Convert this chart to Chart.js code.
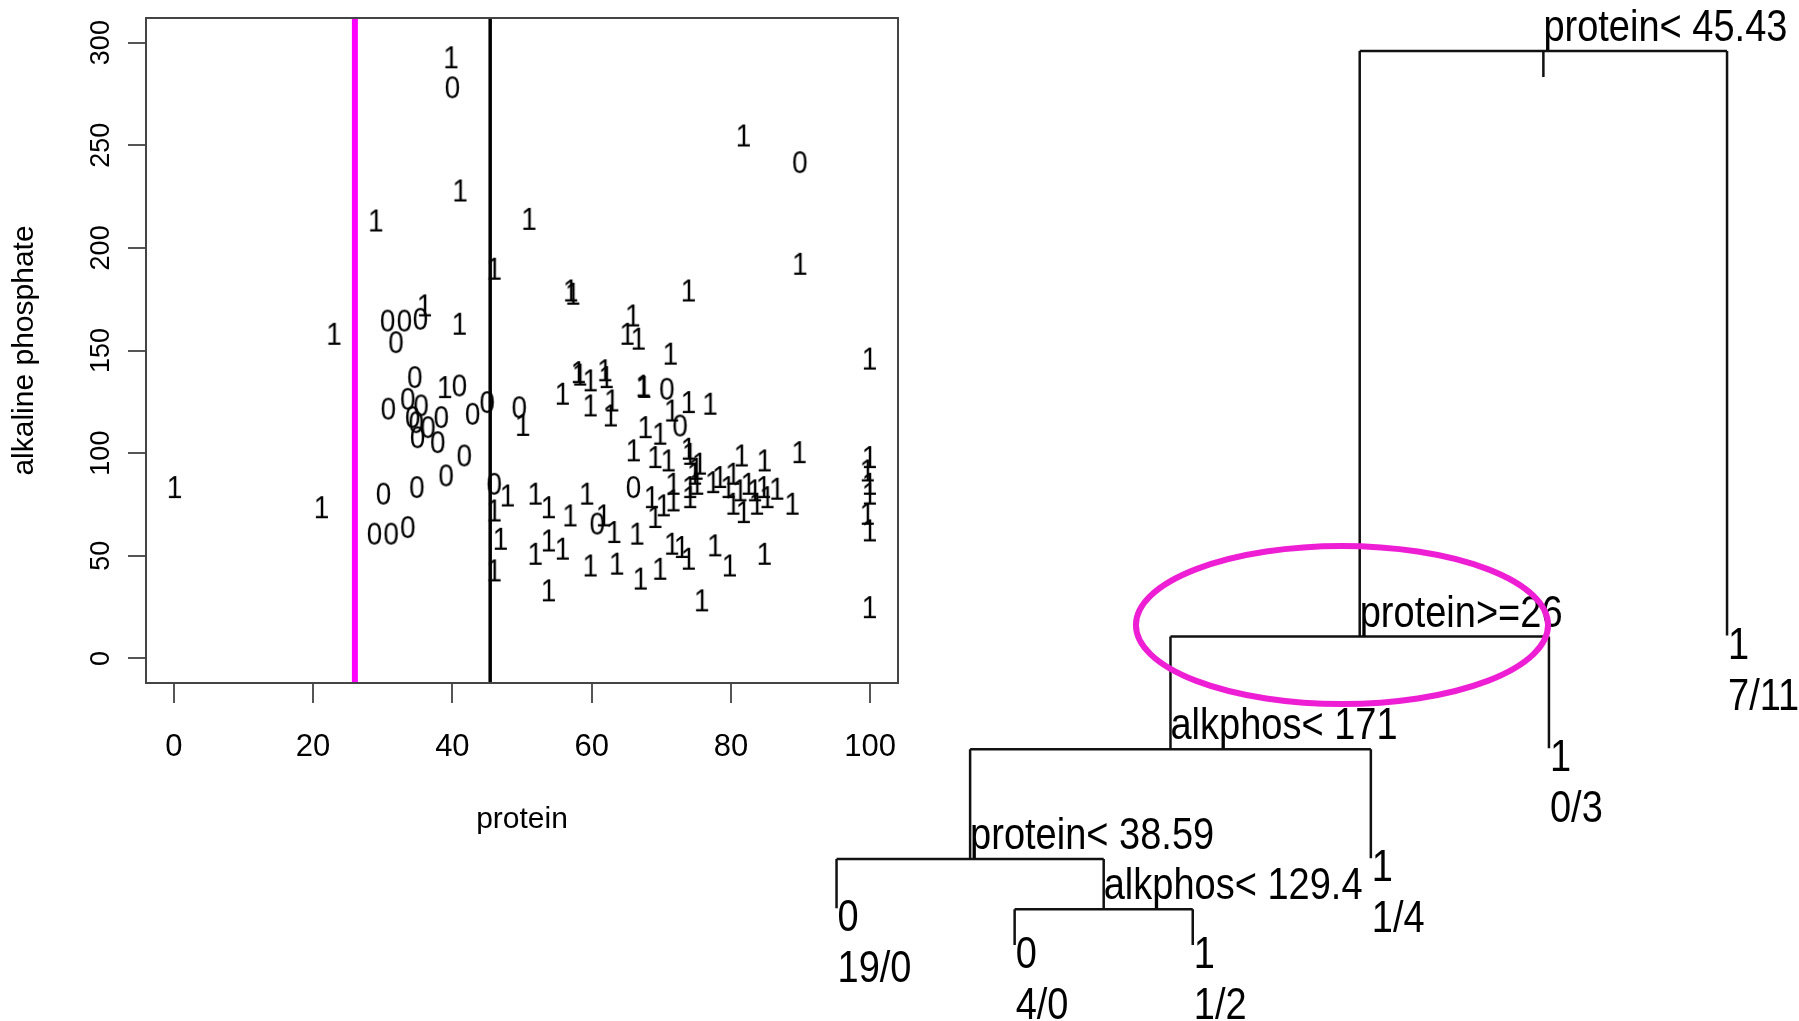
<!DOCTYPE html>
<html><head><meta charset="utf-8">
<script src="https://cdn.jsdelivr.net/npm/chart.js@4/dist/chart.umd.min.js"></script>
<style>
html,body{margin:0;padding:0;background:#fff;}
#wrap{position:relative;width:1799px;height:1021px;overflow:hidden;}
#wrap canvas{position:absolute;left:0;top:0;}
</style></head><body>
<div id="wrap"><canvas id="scatter" width="1799" height="1021"></canvas><canvas id="tree" width="1799" height="1021"></canvas></div>
<script>
const FONT = '"Liberation Sans", Arial, Helvetica, sans-serif';

// ---------- scatter data (protein vs alkaline phosphate), class labels 0 / 1 ----------
const class0Protein = [40.0, 89.9, 30.7, 33.1, 35.4, 31.9, 34.6, 41.0, 30.8, 33.6, 35.5, 34.3, 34.8, 36.5, 38.4, 35.0, 37.9, 42.9, 45.0, 49.6, 41.7, 39.1, 34.9, 30.1, 28.8, 31.2, 33.6, 46.0, 70.8, 72.7, 66.0, 60.8];
const class0Alk     = [278.5, 242.0, 164.8, 164.8, 165.7, 154.3, 137.3, 133.2, 121.9, 126.7, 123.5, 117.8, 115.3, 112.9, 117.8, 108.0, 105.6, 119.4, 125.1, 122.6, 99.1, 89.4, 83.7, 80.5, 61.0, 61.0, 64.2, 85.3, 131.6, 113.7, 83.7, 65.9];

const class1Protein = [0.1, 21.2, 23.0, 29.0, 39.8, 41.1, 41.0, 36.0, 38.9,
  46.0, 51.0, 81.8, 89.9, 57.0, 57.3, 73.9,
  65.9, 65.1, 66.7, 71.3, 99.9,
  58.1, 58.3, 59.8, 61.9, 62.1, 55.8, 59.8, 62.9, 62.7,
  67.4, 67.5, 73.9, 77.0, 71.5, 67.7, 69.8, 66.0, 69.1, 71.0, 73.9, 74.1, 75.5, 75.0,
  81.5, 84.8, 89.8,
  99.9, 99.6, 99.9, 99.9, 99.6, 99.9, 99.9,
  50.1,
  47.9, 46.0, 46.9, 46.0,
  51.9, 53.8, 56.9, 59.3,
  61.7, 63.2,
  68.6, 70.3, 71.7, 71.7, 74.1, 74.1, 74.8, 75.1,
  66.5, 69.1,
  51.9, 53.8, 55.8, 59.8, 63.6, 67.0, 69.8,
  71.5, 72.9, 73.9, 77.7, 79.8, 84.8, 53.8, 75.8,
  77.4, 78.4, 79.6, 80.3, 80.3, 81.3, 81.8, 82.5, 83.4, 83.7, 84.7, 85.2, 86.6, 88.8];
const class1Alk = [83.7, 73.9, 158.4, 213.6, 293.1, 228.2, 163.3, 172.2, 132.4,
  190.1, 214.4, 255.0, 192.5, 179.5, 177.9, 179.5,
  167.3, 158.4, 156.0, 148.7, 146.3,
  139.7, 138.5, 135.7, 140.6, 137.3, 129.2, 123.5, 125.9, 118.6,
  133.1, 132.5, 125.1, 124.3, 121.0, 112.9, 109.7, 101.6, 98.3, 96.7, 102.4, 99.9, 95.1, 92.6,
  99.1, 96.7, 100.7,
  98.3, 91.8, 85.3, 80.5, 70.7, 62.6, 25.2,
  114.0,
  79.6, 72.3, 58.5, 43.1,
  80.5, 73.9, 69.9, 80.5,
  69.9, 61.8,
  78.8, 74.8, 85.3, 77.2, 83.7, 78.8, 90.2, 85.3,
  61.0, 69.1,
  51.2, 57.7, 53.7, 45.5, 46.4, 39.1, 43.9,
  56.1, 54.5, 48.8, 55.3, 45.5, 51.2, 33.4, 28.5,
  86.1, 88.6, 83.7, 90.2, 75.6, 82.1, 71.5, 85.3, 82.1, 75.6, 83.7, 78.8, 82.9, 75.6];

const xTicks = [0, 20, 40, 60, 80, 100];
const yTicks = [0, 50, 100, 150, 200, 250, 300];
const xRange = [-4, 104];
const yRange = [-12, 312];
const splitMagenta = 26;      // protein >= 26
const splitBlack = 45.43;     // protein < 45.43

// ---------- tree data ----------
const leafX      = [1, 2, 3, 4, 5, 6];
const leafY      = [4.1, 0, 0, 9.7, 22.0, 34.6];
const leafClass  = ['0', '0', '1', '1', '1', '1'];
const leafCounts = ['19/0', '4/0', '1/2', '1/4', '0/3', '7/11'];
const splitLabels = ['protein< 45.43', 'protein>=26', 'alkphos< 171', 'protein< 38.59', 'alkphos< 129.4'];
const splitY      = [100, 34.5, 21.9, 9.6, 4.0];
const splitLeft   = ['N1', 'N2', 'N3', 'L0', 'L1'];
const splitRight  = ['L5', 'L4', 'L3', 'N4', 'L2'];
const rootStemEnd = 97.1;
const highlight = { cx: 3.838, cy: 35.79, rx: 1.157, ry: 8.84 };
const treeXRange = [-3.697, 6.404];
const treeYRange = [-8.51, 105.70];

const TEXT_SY = 1.15; // vertical stretch of the reference's lettering

// ---------- glyph point styles ----------
function glyph(ch, size, sy) {
  const c = document.createElement('canvas');
  c.width = Math.ceil(size * 0.8); c.height = Math.ceil(size * 1.3);
  const g = c.getContext('2d');
  g.font = size + 'px ' + FONT;
  g.fillStyle = '#000';
  g.textAlign = 'center';
  g.textBaseline = 'alphabetic';
  g.translate(c.width / 2, c.height / 2);
  g.scale(1, sy);
  g.fillText(ch, 0, 0.358 * size);
  return c;
}
const g0 = glyph('0', 28, TEXT_SY), g1 = glyph('1', 28, TEXT_SY);

const boxPlugin = {
  id: 'box',
  afterDraw(chart) {
    const { ctx, chartArea: a } = chart;
    ctx.save();
    ctx.strokeStyle = '#444'; ctx.lineWidth = 2;
    ctx.strokeRect(a.left, a.top, a.right - a.left, a.bottom - a.top);
    ctx.restore();
  }
};

const pts = (xs, ys) => xs.map((v, i) => ({ x: v, y: ys[i] }));

new Chart(document.getElementById('scatter'), {
  type: 'scatter',
  data: {
    datasets: [
      { type: 'line', data: [{ x: splitMagenta, y: yRange[0] }, { x: splitMagenta, y: yRange[1] }],
        borderColor: '#ff00ff', borderWidth: 6, pointRadius: 0, order: 0 },
      { type: 'line', data: [{ x: splitBlack, y: yRange[0] }, { x: splitBlack, y: yRange[1] }],
        borderColor: '#000', borderWidth: 3.5, pointRadius: 0, order: 0 },
      { data: pts(class1Protein, class1Alk), pointStyle: g1, pointRadius: 10, order: 1 },
      { data: pts(class0Protein, class0Alk), pointStyle: g0, pointRadius: 10, order: 1 }
    ]
  },
  options: {
    responsive: false, animation: false, devicePixelRatio: 1, events: [],
    layout: { padding: { left: 3, top: 18, right: 901, bottom: 179 } },
    plugins: { legend: { display: false }, tooltip: { enabled: false } },
    scales: {
      x: {
        type: 'linear', min: xRange[0], max: xRange[1],
        afterBuildTicks: s => { s.ticks = xTicks.map(v => ({ value: v })); },
        afterFit: s => { s.height = 159; s.paddingLeft = 0; s.paddingRight = 0; },
        grid: { drawOnChartArea: false, drawTicks: true, tickLength: 20, color: '#555', lineWidth: 2 },
        border: { display: true, color: '#444', width: 2 },
        ticks: { font: { family: FONT, size: 31 }, color: '#000', padding: 26, maxRotation: 0 },
        title: { display: true, text: 'protein', font: { family: FONT, size: 30 }, color: '#000' }
      },
      y: {
        type: 'linear', min: yRange[0], max: yRange[1],
        afterBuildTicks: s => { s.ticks = yTicks.map(v => ({ value: v })); },
        afterFit: s => { s.width = 143; s.paddingTop = 0; s.paddingBottom = 0; },
        grid: { drawOnChartArea: false, drawTicks: true, tickLength: 18, color: '#555', lineWidth: 2 },
        border: { display: true, color: '#444', width: 2 },
        ticks: { font: { family: FONT, size: 27 }, color: '#000', padding: 4, minRotation: 90, maxRotation: 90, crossAlign: 'center' },
        title: { display: true, text: 'alkaline phosphate', font: { family: FONT, size: 30 }, color: '#000' }
      }
    }
  },
  plugins: [boxPlugin]
});

// ---------- tree ----------
function nodeX(ref) {
  const k = ref[0], i = +ref.slice(1);
  if (k === 'L') return leafX[i];
  return (nodeX(splitLeft[i]) + nodeX(splitRight[i])) / 2;
}
function nodeY(ref) {
  const k = ref[0], i = +ref.slice(1);
  return k === 'L' ? leafY[i] : splitY[i];
}
const segs = [];
segs.push([{ x: nodeX('N0'), y: splitY[0] }, { x: nodeX('N0'), y: rootStemEnd }]);
splitLabels.forEach((_, i) => {
  const l = splitLeft[i], r = splitRight[i];
  segs.push([{ x: nodeX(l), y: splitY[i] }, { x: nodeX(r), y: splitY[i] }]);
  segs.push([{ x: nodeX(l), y: splitY[i] }, { x: nodeX(l), y: nodeY(l) }]);
  segs.push([{ x: nodeX(r), y: splitY[i] }, { x: nodeX(r), y: nodeY(r) }]);
});

function stretchedText(ctx, t, x, y) {
  ctx.save();
  ctx.translate(x, y);
  ctx.scale(1, TEXT_SY);
  ctx.fillText(t, 0, 0);
  ctx.restore();
}

const treeText = {
  id: 'treeText',
  afterDatasetsDraw(chart) {
    const { ctx, scales: { x, y } } = chart;
    ctx.save();
    ctx.fillStyle = '#000';
    ctx.font = '38px ' + FONT;
    ctx.textAlign = 'left';
    ctx.textBaseline = 'alphabetic';
    splitLabels.forEach((t, i) => {
      stretchedText(ctx, t, x.getPixelForValue(nodeX('N' + i)), y.getPixelForValue(splitY[i]) - 10);
    });
    leafX.forEach((lx, i) => {
      const px = x.getPixelForValue(lx) + 1, py = y.getPixelForValue(leafY[i]);
      stretchedText(ctx, leafClass[i], px, py + 23);
      stretchedText(ctx, leafCounts[i], px, py + 74);
    });
    const cx = x.getPixelForValue(highlight.cx), cy = y.getPixelForValue(highlight.cy);
    const rx = Math.abs(x.getPixelForValue(highlight.cx + highlight.rx) - cx);
    const ry = Math.abs(y.getPixelForValue(highlight.cy + highlight.ry) - cy);
    ctx.strokeStyle = '#ee1ed4'; ctx.lineWidth = 6;
    ctx.beginPath(); ctx.ellipse(cx, cy, rx, ry, 0, 0, Math.PI * 2); ctx.stroke();
    ctx.restore();
  }
};

new Chart(document.getElementById('tree'), {
  type: 'line',
  data: {
    datasets: segs.map(s => ({ data: s, borderColor: '#111', borderWidth: 2.5, pointRadius: 0, clip: false }))
  },
  options: {
    responsive: false, animation: false, devicePixelRatio: 1, events: [],
    layout: { padding: 0 },
    plugins: { legend: { display: false }, tooltip: { enabled: false } },
    scales: {
      x: { type: 'linear', min: treeXRange[0], max: treeXRange[1], display: false },
      y: { type: 'linear', min: treeYRange[0], max: treeYRange[1], display: false }
    }
  },
  plugins: [treeText]
});
</script>
</body></html>
